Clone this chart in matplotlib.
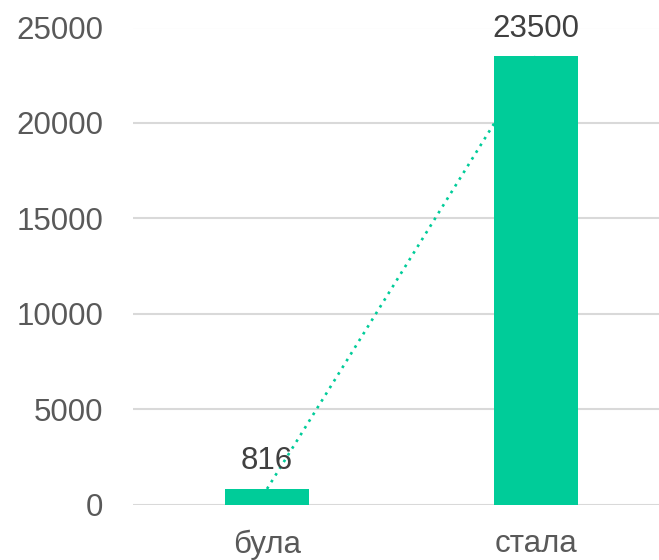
import matplotlib.pyplot as plt

categories = ["була", "стала"]
values = [816, 23500]
y_ticks = [0, 5000, 10000, 15000, 20000, 25000]

green = "#00CC99"

plt.rcParams['font.family'] = ['Liberation Sans', 'DejaVu Sans']

fig = plt.figure(figsize=(6.59, 5.6), dpi=100)
ax = fig.add_axes([132.5 / 659, 1 - 504.5 / 560, 1 - 132.5 / 659, (504.5 - 27.5) / 560])

x = list(range(len(categories)))
bars = ax.bar(x, values, width=0.31, color=green, zorder=3)
# trend line between the bar tops
ax.plot(x, values, color=green, linestyle=(0, (1, 2)), linewidth=1.9, zorder=2)

for xi, v in zip(x, values):
    ax.annotate(str(v), (xi, v), xytext=(0, 9), textcoords="offset points",
                ha="center", va="bottom", fontsize=22.5, color="#404040")

ax.set_ylim(0, 25000)
ax.set_xlim(-0.5, (659 - 267) / 269)
ax.set_yticks(y_ticks)
ax.set_xticks(x)
ax.set_xticklabels(categories)
ax.grid(axis="y", color="#d9d9d9", linewidth=1.5, zorder=0)
ax.set_axisbelow(True)
for s in ax.spines.values():
    s.set_visible(False)
ax.tick_params(axis="y", length=0, pad=21, labelsize=22.5, labelcolor="#595959")
ax.tick_params(axis="x", length=0, pad=18, labelsize=22.5, labelcolor="#595959")

fig.savefig("out.png", dpi=100)
